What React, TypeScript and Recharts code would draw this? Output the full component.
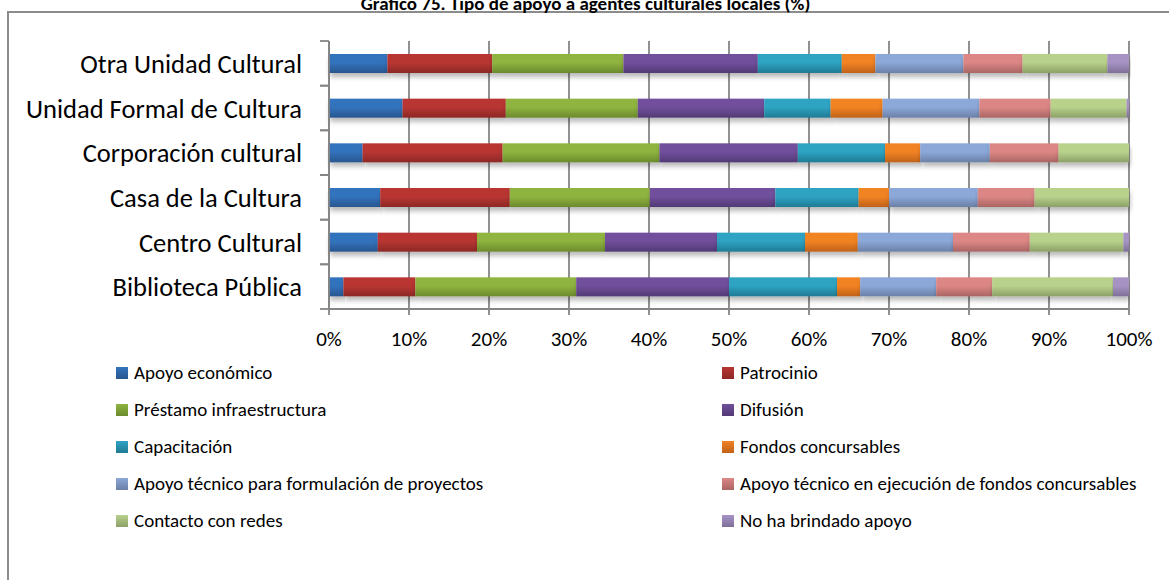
import React from 'react';
import { BarChart, Bar, XAxis, YAxis, CartesianGrid } from 'recharts';

const categories = [
  'Otra Unidad Cultural',
  'Unidad Formal de Cultura',
  'Corporación cultural',
  'Casa de la Cultura',
  'Centro Cultural',
  'Biblioteca Pública',
];

const seriesNames = [
  'Apoyo económico',
  'Patrocinio',
  'Préstamo infraestructura',
  'Difusión',
  'Capacitación',
  'Fondos concursables',
  'Apoyo técnico para formulación de proyectos',
  'Apoyo técnico en ejecución de fondos concursables',
  'Contacto con redes',
  'No ha brindado apoyo',
];

const apoyoEconomico = [7.3, 9.2, 4.2, 6.4, 6.1, 1.8];
const patrocinio = [13.1, 12.9, 17.5, 16.2, 12.4, 9.0];
const prestamoInfra = [16.4, 16.5, 19.6, 17.5, 16.0, 20.1];
const difusion = [16.8, 15.8, 17.3, 15.7, 14.0, 19.1];
const capacitacion = [10.5, 8.3, 10.9, 10.4, 11.0, 13.5];
const fondosConcursables = [4.2, 6.5, 4.4, 3.8, 6.6, 2.9];
const apoyoFormulacion = [11.0, 12.1, 8.7, 11.1, 11.9, 9.5];
const apoyoEjecucion = [7.4, 8.9, 8.6, 7.1, 9.6, 7.0];
const contactoRedes = [10.6, 9.5, 8.8, 11.8, 11.7, 15.1];
const noHaBrindado = [2.7, 0.3, 0.0, 0.0, 0.7, 2.0];

const seriesValues = [
  apoyoEconomico,
  patrocinio,
  prestamoInfra,
  difusion,
  capacitacion,
  fondosConcursables,
  apoyoFormulacion,
  apoyoEjecucion,
  contactoRedes,
  noHaBrindado,
];

const xTicks = [0, 10, 20, 30, 40, 50, 60, 70, 80, 90, 100];

const colors: [string, string][] = [
  ['#3373BD', '#28568F'],
  ['#B83633', '#8C2825'],
  ['#8FB43F', '#6B8A2D'],
  ['#714F9C', '#523A75'],
  ['#2EA3C2', '#207B94'],
  ['#F28324', '#BF6219'],
  ['#8CA8D9', '#6A80A6'],
  ['#DC8785', '#A96563'],
  ['#B8D18B', '#8CA067'],
  ['#A693C4', '#7E6F98'],
];

const data = categories.map((name, i) => {
  const row: Record<string, number | string> = { name };
  seriesValues.forEach((arr, s) => {
    row['s' + s] = arr[i];
  });
  return row;
});

const FONT = 'Carlito, Calibri, Lato, sans-serif';
const GRID = '#858585';
const CHART_W = 1169;
const CHART_H = 380;
const M_TOP = 41;
const M_RIGHT = 40;
const X_AXIS_H = 30;
const M_BOTTOM = 41;
const PLOT_H = CHART_H - M_TOP - M_BOTTOM - X_AXIS_H;
const HALF_BAND = PLOT_H / categories.length / 2;

const YTick = (props: any) => {
  const { x, y, payload } = props;
  return (
    <g>
      <line x1={x - 9} x2={x} y1={y - HALF_BAND} y2={y - HALF_BAND} stroke={GRID} strokeWidth={1.8} />
      <line x1={x - 9} x2={x} y1={y + HALF_BAND} y2={y + HALF_BAND} stroke={GRID} strokeWidth={1.8} />
      <text x={x - 27} y={y} dy="0.36em" textAnchor="end" fill="#000" fontSize={26.5} fontFamily={FONT}>
        {payload.value}
      </text>
    </g>
  );
};

const makeShape = (idx: number) => (props: any) => {
  const { x, y, width, height } = props;
  if (!width || width <= 0) return <g />;
  return (
    <rect x={x} y={y} width={width} height={height} fill={`url(#grad${idx})`} filter="url(#barShadow)" />
  );
};

export default function App() {
  return (
    <div
      style={{
        position: 'fixed',
        left: 0,
        top: 0,
        width: 1169,
        height: 580,
        background: '#fff',
        overflow: 'hidden',
        fontFamily: FONT,
      }}
    >
      <div
        style={{
          position: 'absolute',
          left: 7,
          top: 11,
          width: 1200,
          height: 620,
          border: '2px solid #8c8c8c',
          boxSizing: 'border-box',
        }}
      />
      <div
        style={{
          position: 'absolute',
          left: 0,
          width: 1171,
          top: -6,
          textAlign: 'center',
          fontWeight: 'bold',
          fontSize: 19,
          lineHeight: '20px',
          color: '#000',
        }}
      >
        Gráfico 75. Tipo de apoyo a agentes culturales locales (%)
      </div>
      <div style={{ position: 'absolute', left: 0, top: 0 }}>
        <BarChart
          width={CHART_W}
          height={CHART_H}
          data={data}
          layout="vertical"
          margin={{ top: M_TOP, right: M_RIGHT, bottom: M_BOTTOM, left: 0 }}
        >
          <defs>
            {colors.map((c, i) => (
              <linearGradient key={i} id={`grad${i}`} x1="0" y1="0" x2="0" y2="1">
                <stop offset="0%" stopColor={c[0]} />
                <stop offset="45%" stopColor={c[0]} />
                <stop offset="100%" stopColor={c[1]} />
              </linearGradient>
            ))}
            <filter id="barShadow" x="-5%" y="-30%" width="110%" height="190%">
              <feDropShadow dx="1" dy="4" stdDeviation="2.5" floodColor="#000" floodOpacity="0.28" />
            </filter>
          </defs>
          <CartesianGrid horizontal={false} stroke={GRID} strokeWidth={1.8} />
          <XAxis
            type="number"
            domain={[0, 100]}
            ticks={xTicks}
            tickFormatter={(v: number) => `${v}%`}
            axisLine={{ stroke: GRID, strokeWidth: 1.8 }}
            tickLine={{ stroke: GRID, strokeWidth: 1.8 }}
            tickSize={6}
            tickMargin={16}
            height={X_AXIS_H}
            tick={{ fill: '#000', fontSize: 21, fontFamily: FONT }}
            interval={0}
          />
          <YAxis
            type="category"
            dataKey="name"
            width={329}
            axisLine={{ stroke: GRID, strokeWidth: 1.8 }}
            tickLine={false}
            tickSize={0}
            tickMargin={0}
            tick={<YTick />}
            interval={0}
          />
          {seriesNames.map((n, i) => (
            <Bar
              key={n}
              dataKey={'s' + i}
              name={n}
              stackId="a"
              barSize={19}
              isAnimationActive={false}
              shape={makeShape(i)}
            />
          ))}
        </BarChart>
      </div>
      {seriesNames.map((n, i) => {
        const col = i % 2;
        const row = Math.floor(i / 2);
        const cy = 373 + row * 37;
        const sx = col === 0 ? 116 : 722;
        return (
          <div
            key={n}
            style={{
              position: 'absolute',
              left: sx,
              top: cy - 12,
              height: 24,
              display: 'flex',
              alignItems: 'center',
              whiteSpace: 'nowrap',
            }}
          >
            <span
              style={{
                display: 'inline-block',
                width: 12,
                height: 12,
                background: `linear-gradient(${colors[i][0]}, ${colors[i][1]})`,
                marginRight: 6,
              }}
            />
            <span style={{ fontSize: 19, color: '#000', lineHeight: '24px' }}>{n}</span>
          </div>
        );
      })}
    </div>
  );
}
